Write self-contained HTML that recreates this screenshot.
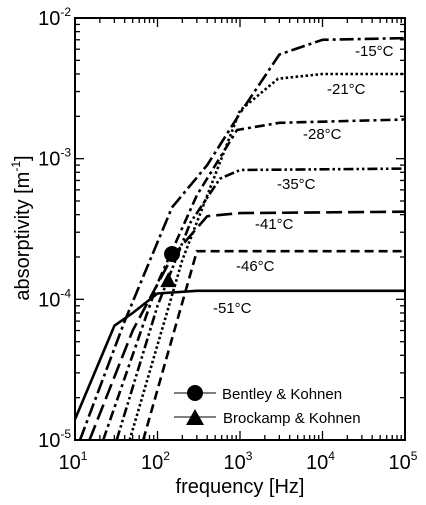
<!DOCTYPE html>
<html><head><meta charset="utf-8"><style>
html,body{margin:0;padding:0;background:#fff}
svg{display:block;font-family:"Liberation Sans",Arial,sans-serif}
</style></head><body>
<svg id="chart" width="426" height="505" viewBox="0 0 426 505" xmlns="http://www.w3.org/2000/svg"></svg>
<script>
const xTickLabels=["1","2","3","4","5"];
const yTickLabels=["-5","-4","-3","-2"];
const curveNames=["-15°C","-21°C","-28°C","-35°C","-41°C","-46°C","-51°C"];
const c15F=[11.5,40,150,400,1000,3000,10000,100000];
const c15A=[1e-5,7e-5,4.5e-4,9e-4,2.1e-3,5.5e-3,7e-3,7.2e-3];
const c21F=[46,200,1000,2900,10000,100000];
const c21A=[1e-5,1.9e-4,2.2e-3,3.7e-3,4e-3,4e-3];
const c28F=[22,100,300,920,3000,100000];
const c28A=[1e-5,1.3e-4,5.5e-4,1.6e-3,1.8e-3,1.9e-3];
const c35F=[32,100,250,570,1000,100000];
const c35A=[1e-5,9e-5,3.5e-4,7.2e-4,8.3e-4,8.5e-4];
const c41F=[15,50,150,400,1000,100000];
const c41A=[1e-5,6e-5,2e-4,3.9e-4,4.1e-4,4.2e-4];
const c46F=[67,300,1000,100000];
const c46A=[1e-5,2.2e-4,2.2e-4,2.2e-4];
const c51F=[10,30,50,100,300,100000];
const c51A=[1.4e-5,6.5e-5,8e-5,1.1e-4,1.15e-4,1.15e-4];
const bentleyF=[150], bentleyA=[2.1e-4];
const brockampF=[135], brockampA=[1.37e-4];

const L=75,R=405,T=18,B=440;
const X=f=>L+(Math.log10(f)-1)/4*(R-L);
const Y=a=>B-(Math.log10(a)+5)/3*(B-T);
const svg=document.getElementById('chart');
const NS="http://www.w3.org/2000/svg";
function mk(tag,attrs,parent){const e=document.createElementNS(NS,tag);for(const k in attrs)e.setAttribute(k,attrs[k]);(parent||svg).appendChild(e);return e;}

const clip=mk('clipPath',{id:'pc'});mk('rect',{x:L,y:T,width:R-L,height:B-T},clip);

// ticks
const tg=mk('g',{stroke:'#000','stroke-width':1.3});


for(let d=1;d<5;d++)for(let m=1;m<10;m++){const x=X(m*Math.pow(10,d));const len=m==1?9:5;
 mk('line',{x1:x,y1:B,x2:x,y2:B-len},tg);mk('line',{x1:x,y1:T,x2:x,y2:T+len},tg);}
for(let d=-5;d<-2;d++)for(let m=1;m<10;m++){const y=Y(m*Math.pow(10,d));const len=m==1?9:5;
 mk('line',{x1:L,y1:y,x2:L+len,y2:y},tg);mk('line',{x1:R,y1:y,x2:R-len,y2:y},tg);}

// curves
const curves=[[c15F,c15A,"14 4 3 4"],[c21F,c21A,"2.5 2.5"],[c28F,c28A,"10 4 3 4"],[c35F,c35A,"10 3 2.5 3 2.5 3"],[c41F,c41A,"16 6"],[c46F,c46A,"9 5"],[c51F,c51A,""]];
const cg=mk('g',{'clip-path':'url(#pc)',fill:'none',stroke:'#000','stroke-width':2.6});
curves.forEach((c,i)=>{
 const p=mk('path',{d:c[0].map((f,j)=>(j?'L':'M')+X(f).toFixed(1)+' '+Y(c[1][j]).toFixed(1)).join(' '),'stroke-dasharray':c[2]},cg);
 
 
});
// markers
bentleyF.forEach((f,i)=>{const e=mk('circle',{cx:X(f),cy:Y(bentleyA[i]),r:8,fill:'#000'});
 });
brockampF.forEach((f,i)=>{const x=X(f),y=Y(brockampA[i]);const e=mk('polygon',{points:`${x-8},${y+7} ${x+8},${y+7} ${x},${y-8}`,fill:'#000'});
 });

// frame
const fr=mk('rect',{x:L,y:T,width:R-L,height:B-T,fill:'none',stroke:'#000','stroke-width':2});


// curve labels
const labelPos=[[355,56],[327,94],[303,139],[277,189],[255,229],[236,271],[213,313]];
curveNames.forEach((n,i)=>{const t=mk('text',{x:labelPos[i][0],y:labelPos[i][1],'font-size':15});
 t.textContent=n;});

// axis labels
xTickLabels.forEach((s,i)=>{const t=mk('text',{x:X(Math.pow(10,i+1))-2,y:469,'font-size':20,'text-anchor':'middle'});
 t.innerHTML='10<tspan font-size="12" dy="-9">'+s+'</tspan>';
 });
yTickLabels.forEach((s,i)=>{const t=mk('text',{x:71,y:Y(Math.pow(10,i-5))+7,'font-size':20,'text-anchor':'end'});
 t.innerHTML='10<tspan font-size="12" dy="-9">'+s+'</tspan>';
 });
const xt=mk('text',{x:240,y:493,'font-size':20,'text-anchor':'middle'});xt.textContent='frequency [Hz]';

const yt=mk('text',{x:0,y:0,'font-size':20,'text-anchor':'middle',transform:'translate(29,228) rotate(-90)'});
yt.innerHTML='absorptivity [m<tspan font-size="12" dy="-9">-1</tspan><tspan dy="9">]</tspan>';


// legend
const lg=mk('g',{});

mk('line',{x1:174,y1:393,x2:216,y2:393,stroke:'#555','stroke-width':1.5},lg);
mk('circle',{cx:195,cy:393,r:8,fill:'#000'},lg);
mk('line',{x1:174,y1:417,x2:216,y2:417,stroke:'#555','stroke-width':1.5},lg);
mk('polygon',{points:'186,425 204,425 195,409',fill:'#000'},lg);
const l1=mk('text',{x:222,y:399,'font-size':15},lg);l1.textContent='Bentley & Kohnen';

const l2=mk('text',{x:223,y:423,'font-size':15},lg);l2.textContent='Brockamp & Kohnen';

</script>
</body></html>
